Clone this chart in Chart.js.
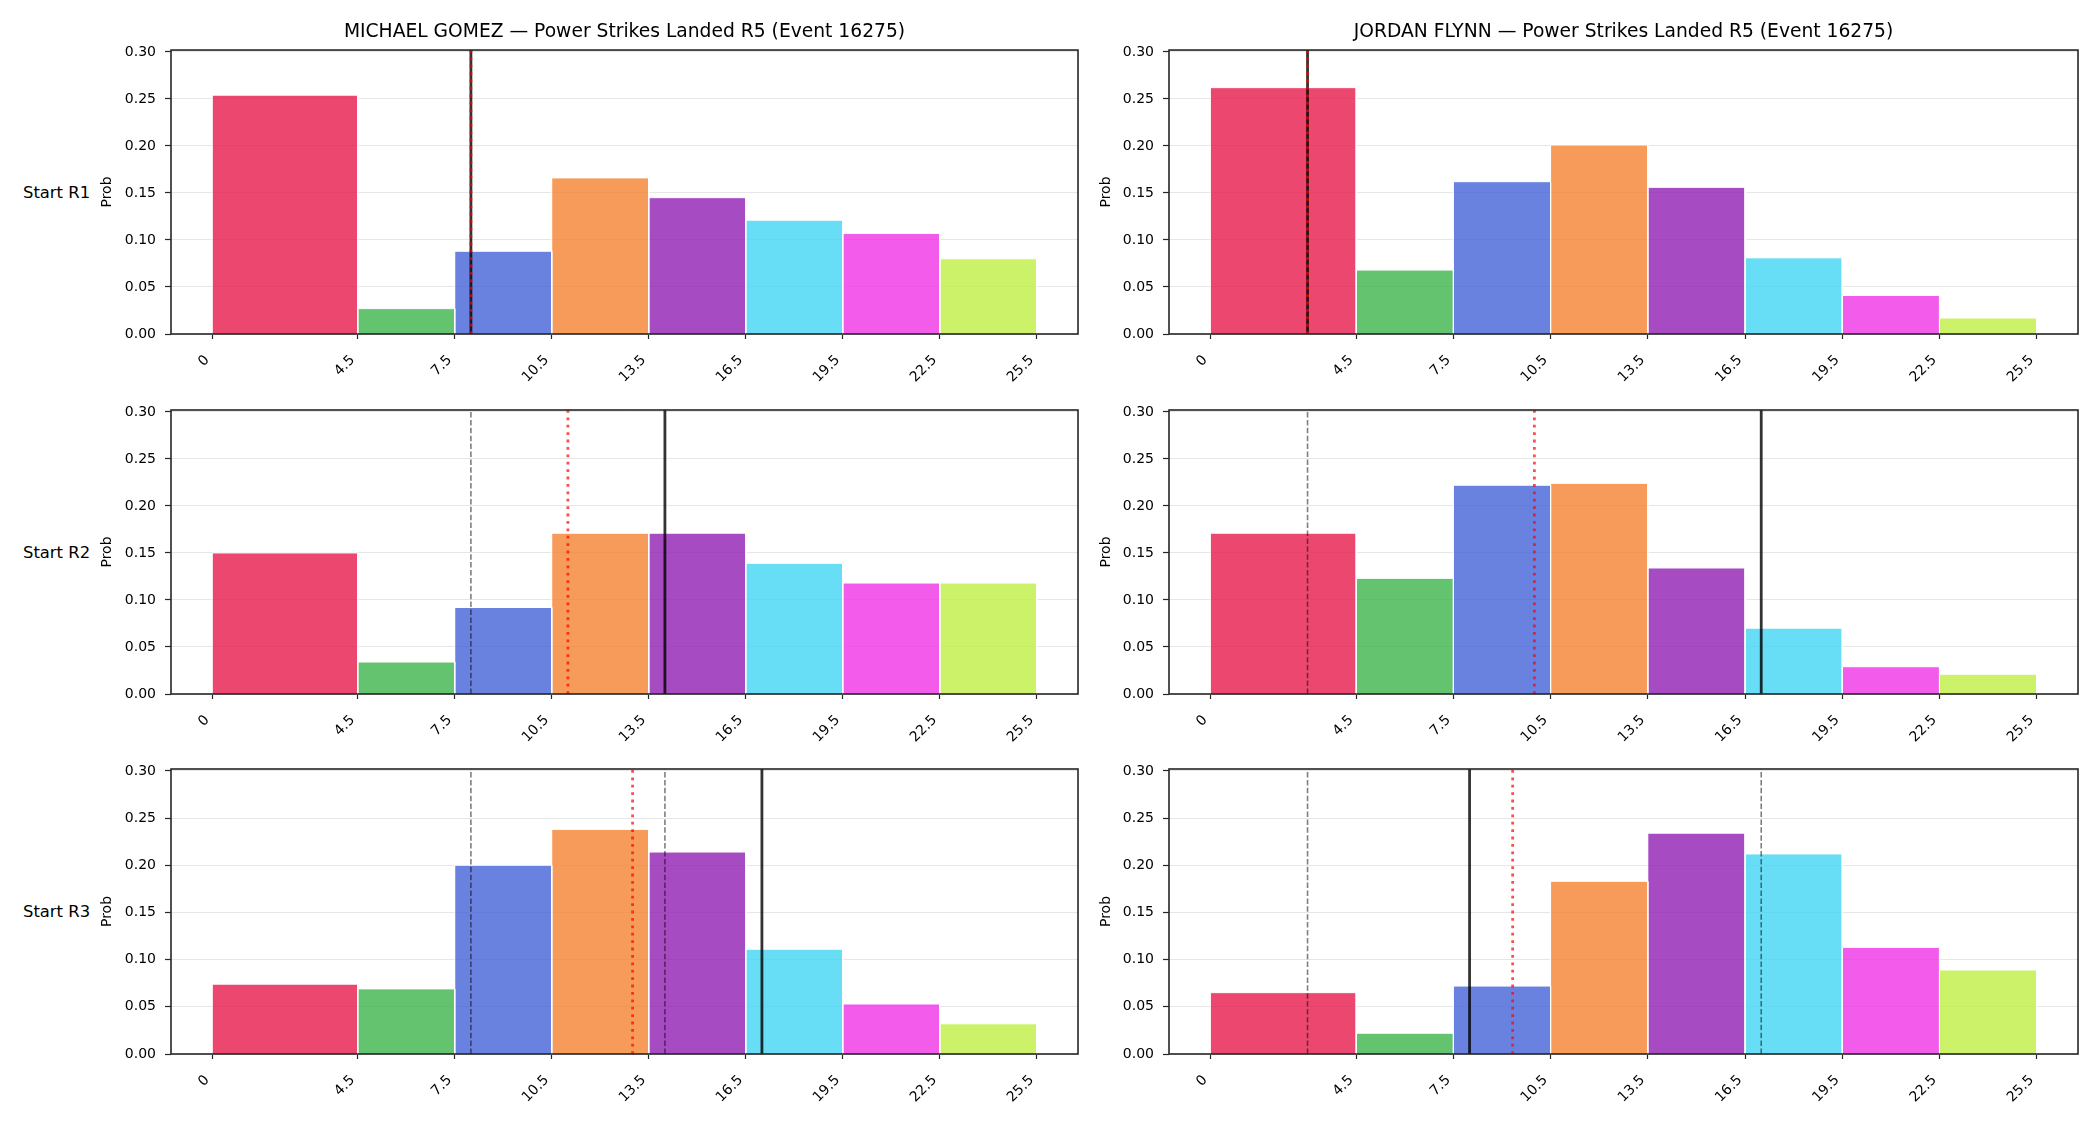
<!DOCTYPE html>
<html>
<head>
<meta charset="utf-8">
<title>Power Strikes Landed R5 (Event 16275)</title>
<script src="https://cdn.jsdelivr.net/npm/chart.js@4.4.1/dist/chart.umd.min.js"></script>
<style>
  html, body { margin: 0; padding: 0; background: #fff; }
  body {
    width: 2100px;
    height: 1125px;
    position: relative;
    overflow: hidden;
    font-family: "DejaVu Sans", sans-serif;
  }
  .panel { position: absolute; }
  .row-label {
    position: absolute;
    left: 23px;
    font-size: 16.4px;
    color: #000;
    white-space: nowrap;
    transform: translateY(-50%);
  }
</style>
</head>
<body>

<div class="row-label" style="top:192px">Start R1</div>
<div class="row-label" style="top:552px">Start R2</div>
<div class="row-label" style="top:911px">Start R3</div>

<div id="grid"></div>

<script>
/* ===============================
   DATA
================================ */

const binEdges = [0, 4.5, 7.5, 10.5, 13.5, 16.5, 19.5, 22.5, 25.5];
const tickLabels = ["0", "4.5", "7.5", "10.5", "13.5", "16.5", "19.5", "22.5", "25.5"];

const fighters = ["MICHAEL GOMEZ", "JORDAN FLYNN"];
const rowLabels = ["Start R1", "Start R2", "Start R3"];

/* one colour per bin (drawn at 0.8 alpha) */
const binColors = ["#e6194b", "#3cb44b", "#4363d8", "#f58231", "#911eb4", "#42d4f4", "#f032e6", "#bfef45"];

/* Michael Gomez - probability per bin */
const gomezR1 = [0.254, 0.027, 0.088, 0.166, 0.145, 0.121, 0.107, 0.080];
const gomezR2 = [0.150, 0.034, 0.092, 0.171, 0.171, 0.139, 0.118, 0.118];
const gomezR3 = [0.074, 0.069, 0.200, 0.238, 0.214, 0.111, 0.053, 0.032];

/* Jordan Flynn - probability per bin */
const flynnR1 = [0.262, 0.068, 0.162, 0.201, 0.156, 0.081, 0.041, 0.017];
const flynnR2 = [0.171, 0.123, 0.222, 0.224, 0.134, 0.070, 0.029, 0.021];
const flynnR3 = [0.065, 0.022, 0.072, 0.183, 0.234, 0.212, 0.113, 0.089];

/* marker lines: solid = line for the round, dotted = expected */
const gomezLine = [8, 14, 17];
const gomezMean = [8, 11, 13];
const flynnLine = [3, 17, 8];
const flynnMean = [3, 10, 9.33];

const yMax = 0.302;

/* ===============================
   LAYOUT
================================ */

const cols = [
  { left: 0, width: 1095, yWidth: 171, padRight: 17, probPad: 98.6 },
  { left: 1095, width: 1005, yWidth: 74, padRight: 22, probPad: 2.6 }
];

const rows = [
  { top: 0, height: 388, padTop: 0 },
  { top: 390, height: 358, padTop: 20 },
  { top: 749, height: 359, padTop: 20 }
];

const probs = [
  [gomezR1, gomezR2, gomezR3],
  [flynnR1, flynnR2, flynnR3]
];
const lineVals = [gomezLine, flynnLine];
const meanVals = [gomezMean, flynnMean];

Chart.defaults.font.family = "'DejaVu Sans', sans-serif";
Chart.defaults.color = "#000";

function alpha(hex, a) {
  const n = parseInt(hex.slice(1), 16);
  return `rgba(${(n >> 16) & 255}, ${(n >> 8) & 255}, ${n & 255}, ${a})`;
}

/* frame drawn over the bars, like matplotlib spines */
const framePlugin = {
  id: "frame",
  afterDatasetsDraw(chart) {
    const { ctx, chartArea: a } = chart;
    ctx.save();
    ctx.strokeStyle = "#262626";
    ctx.lineWidth = 1.6;
    ctx.strokeRect(a.left, a.top, a.right - a.left, a.bottom - a.top);
    ctx.restore();
  }
};

function vline(x, color, width, dash, order) {
  return {
    data: [{ x: x, y: 0 }, { x: x, y: yMax }],
    borderColor: color,
    borderWidth: width,
    borderDash: dash,
    pointRadius: 0,
    fill: false,
    order: order
  };
}

function buildDatasets(c, r) {
  const values = probs[c][r];
  const sets = values.map((v, i) => ({
    data: [
      { x: binEdges[i], y: 0 },
      { x: binEdges[i], y: v },
      { x: binEdges[i + 1], y: v },
      { x: binEdges[i + 1], y: 0 }
    ],
    backgroundColor: alpha(binColors[i], 0.8),
    borderColor: "#ffffff",
    borderWidth: 1,
    pointRadius: 0,
    tension: 0,
    fill: "origin",
    order: 10
  }));

  // earlier rounds' lines, grey dashed
  for (let k = 0; k < r; k++) {
    sets.push(vline(lineVals[c][k], "rgba(0,0,0,0.5)", 1.6, [5.5, 2.4], 3));
  }
  sets.push(vline(lineVals[c][r], "rgba(0,0,0,0.8)", 2.8, [], 2));
  sets.push(vline(meanVals[c][r], "rgba(255,0,0,0.7)", 2.8, [2.8, 4.6], 1));
  return sets;
}

/* ===============================
   CHARTS
================================ */

const gridEl = document.getElementById("grid");

cols.forEach((col, c) => {
  rows.forEach((row, r) => {
    const wrap = document.createElement("div");
    wrap.className = "panel";
    wrap.style.left = col.left + "px";
    wrap.style.top = row.top + "px";
    const canvas = document.createElement("canvas");
    canvas.width = col.width;
    canvas.height = row.height;
    wrap.appendChild(canvas);
    gridEl.appendChild(wrap);

    new Chart(canvas, {
      type: "line",
      data: { datasets: buildDatasets(c, r) },
      plugins: [framePlugin],
      options: {
        responsive: false,
        animation: false,
        events: [],
        layout: {
          padding: { top: row.padTop, right: col.padRight, bottom: 0, left: 0 }
        },
        plugins: {
          legend: { display: false },
          tooltip: { enabled: false },
          title: {
            display: r === 0,
            text: `${fighters[c]} — Power Strikes Landed R5 (Event 16275)`,
            fullSize: false,
            color: "#000",
            font: { size: 18.7, weight: "normal", lineHeight: 1.2 },
            padding: { top: 20.5, bottom: 7.1 }
          }
        },
        scales: {
          x: {
            type: "linear",
            min: -1.275,
            max: 26.775,
            afterBuildTicks: scale => {
              scale.ticks = binEdges.map(v => ({ value: v }));
            },
            afterFit: scale => { scale.height = 54; },
            border: { display: false },
            grid: {
              drawOnChartArea: false,
              drawTicks: true,
              tickLength: 5,
              tickColor: "#262626",
              tickWidth: 1.2
            },
            ticks: {
              autoSkip: false,
              minRotation: 45,
              maxRotation: 45,
              padding: 13,
              labelOffset: -5,
              font: { size: 14 },
              callback: (value, index) => tickLabels[index]
            }
          },
          y: {
            min: 0,
            max: yMax,
            afterFit: scale => { scale.width = col.yWidth; },
            border: { display: false },
            grid: {
              color: "#e6e6e6",
              lineWidth: 1,
              tickLength: 6,
              tickColor: "#262626",
              tickWidth: 1.2
            },
            ticks: {
              stepSize: 0.05,
              includeBounds: false,
              padding: 9,
              font: { size: 14 },
              callback: v => v.toFixed(2)
            },
            title: {
              display: true,
              text: "Prob",
              font: { size: 14 },
              padding: { top: col.probPad, bottom: 0 }
            }
          }
        }
      }
    });
  });
});
</script>
</body>
</html>
